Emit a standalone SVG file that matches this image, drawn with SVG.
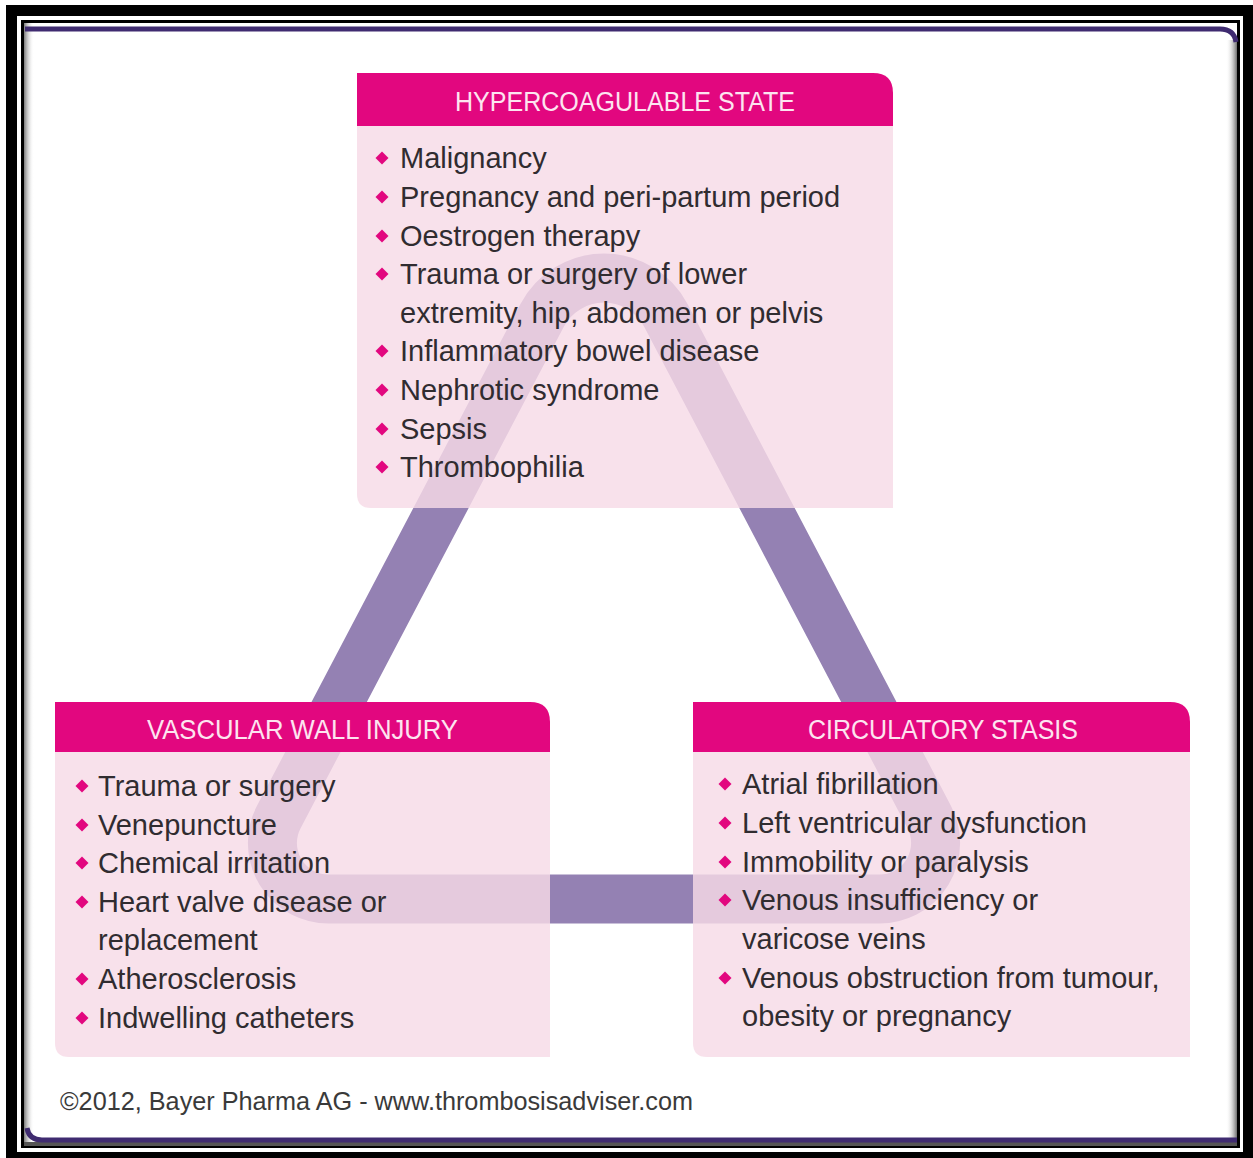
<svg xmlns="http://www.w3.org/2000/svg" width="1253" height="1158" viewBox="0 0 1253 1158">
<defs>
<style>
.hdr{fill:#e2077f}
.body{fill:#f7dbe7;fill-opacity:0.82}
.htxt{font-family:"Liberation Sans",Arial,sans-serif;font-size:27px;fill:#fde4f0;text-anchor:middle}
.txt{font-family:"Liberation Sans",Arial,sans-serif;font-size:29px;fill:#302c30}
.foot{font-family:"Liberation Sans",Arial,sans-serif;font-size:25px;fill:#3a3a3a}
.band{fill:none;stroke:#9481b3;stroke-width:49}
.bul{fill:#e2077f}
</style>
<path id="dia" d="M0,-6.5 L6.5,0 L0,6.5 L-6.5,0 Z"/>
<linearGradient id="shL" x1="0" y1="0" x2="1" y2="0">
<stop offset="0" stop-color="#7a7a7a"/><stop offset="1" stop-color="#ffffff" stop-opacity="0"/>
</linearGradient>
<linearGradient id="shR" x1="0" y1="0" x2="1" y2="0">
<stop offset="0" stop-color="#ffffff" stop-opacity="0"/><stop offset="1" stop-color="#6e6e6e"/>
</linearGradient>
</defs>

<g id="frame">
<rect x="0" y="0" width="1253" height="1158" fill="#ffffff"/>
<path fill="#000" fill-rule="evenodd" d="M6,5 H1253 V1158 H6 Z M17,16 V1152 H1243 V16 Z"/>
<rect x="22.5" y="21.5" width="1216" height="1125" fill="#ffffff" stroke="#000" stroke-width="3"/>
<rect x="24" y="23" width="10" height="1120" fill="url(#shL)"/>
<rect x="1226" y="40" width="11" height="1100" fill="url(#shR)"/>
<rect x="24" y="1142" width="1213" height="4" fill="#555"/>
<path d="M25,29 H1220 Q1234,29 1236,42" fill="none" stroke="#3f2b70" stroke-width="5"/>
<path d="M27,1128 Q29,1140 42,1140 H1237" fill="none" stroke="#3f2b70" stroke-width="5"/>
</g>

<g id="connectors">
<path class="band" d="M542,315.6 L278.8,817 A56,56 0 0 0 328.4,899 L879.6,899 A56,56 0 0 0 929.2,817 L666,315.6 A70,70 0 0 0 542,315.6 Z"/>
</g>

<g id="hypercoagulable">
<path class="body" d="M357,126 H893 V508 H371 Q357,508 357,494 Z"/>
<path class="hdr" d="M357,126 V73 H873 Q893,73 893,93 V126 Z"/>
<text class="htxt" x="625" y="111" textLength="340" lengthAdjust="spacingAndGlyphs">HYPERCOAGULABLE STATE</text>
<use href="#dia" class="bul" x="382" y="158"/>
<use href="#dia" class="bul" x="382" y="197"/>
<use href="#dia" class="bul" x="382" y="236"/>
<use href="#dia" class="bul" x="382" y="274"/>
<use href="#dia" class="bul" x="382" y="351"/>
<use href="#dia" class="bul" x="382" y="390"/>
<use href="#dia" class="bul" x="382" y="429"/>
<use href="#dia" class="bul" x="382" y="467"/>
<text class="txt" x="400" y="168">Malignancy</text>
<text class="txt" x="400" y="207">Pregnancy and peri-partum period</text>
<text class="txt" x="400" y="246">Oestrogen therapy</text>
<text class="txt" x="400" y="284">Trauma or surgery of lower</text>
<text class="txt" x="400" y="323">extremity, hip, abdomen or pelvis</text>
<text class="txt" x="400" y="361">Inflammatory bowel disease</text>
<text class="txt" x="400" y="400">Nephrotic syndrome</text>
<text class="txt" x="400" y="439">Sepsis</text>
<text class="txt" x="400" y="477">Thrombophilia</text>
</g>

<g id="vascular">
<path class="body" d="M55,752 H550 V1057 H69 Q55,1057 55,1043 Z"/>
<path class="hdr" d="M55,752 V702 H530 Q550,702 550,722 V752 Z"/>
<text class="htxt" x="302.5" y="739" textLength="311" lengthAdjust="spacingAndGlyphs">VASCULAR WALL INJURY</text>
<use href="#dia" class="bul" x="82" y="786"/>
<use href="#dia" class="bul" x="82" y="825"/>
<use href="#dia" class="bul" x="82" y="863"/>
<use href="#dia" class="bul" x="82" y="902"/>
<use href="#dia" class="bul" x="82" y="979"/>
<use href="#dia" class="bul" x="82" y="1018"/>
<text class="txt" x="98" y="796">Trauma or surgery</text>
<text class="txt" x="98" y="835">Venepuncture</text>
<text class="txt" x="98" y="873">Chemical irritation</text>
<text class="txt" x="98" y="912">Heart valve disease or</text>
<text class="txt" x="98" y="950">replacement</text>
<text class="txt" x="98" y="989">Atherosclerosis</text>
<text class="txt" x="98" y="1028">Indwelling catheters</text>
</g>

<g id="stasis">
<path class="body" d="M693,752 H1190 V1057 H707 Q693,1057 693,1043 Z"/>
<path class="hdr" d="M693,752 V702 H1170 Q1190,702 1190,722 V752 Z"/>
<text class="htxt" x="943" y="739" textLength="270" lengthAdjust="spacingAndGlyphs">CIRCULATORY STASIS</text>
<use href="#dia" class="bul" x="725" y="784"/>
<use href="#dia" class="bul" x="725" y="823"/>
<use href="#dia" class="bul" x="725" y="862"/>
<use href="#dia" class="bul" x="725" y="900"/>
<use href="#dia" class="bul" x="725" y="978"/>
<text class="txt" x="742" y="794">Atrial fibrillation</text>
<text class="txt" x="742" y="833">Left ventricular dysfunction</text>
<text class="txt" x="742" y="872">Immobility or paralysis</text>
<text class="txt" x="742" y="910">Venous insufficiency or</text>
<text class="txt" x="742" y="949">varicose veins</text>
<text class="txt" x="742" y="988">Venous obstruction from tumour,</text>
<text class="txt" x="742" y="1026">obesity or pregnancy</text>
</g>

<g id="footer">
<text class="foot" x="60" y="1110" textLength="633" lengthAdjust="spacingAndGlyphs">©2012, Bayer Pharma AG - www.thrombosisadviser.com</text>
</g>
</svg>
